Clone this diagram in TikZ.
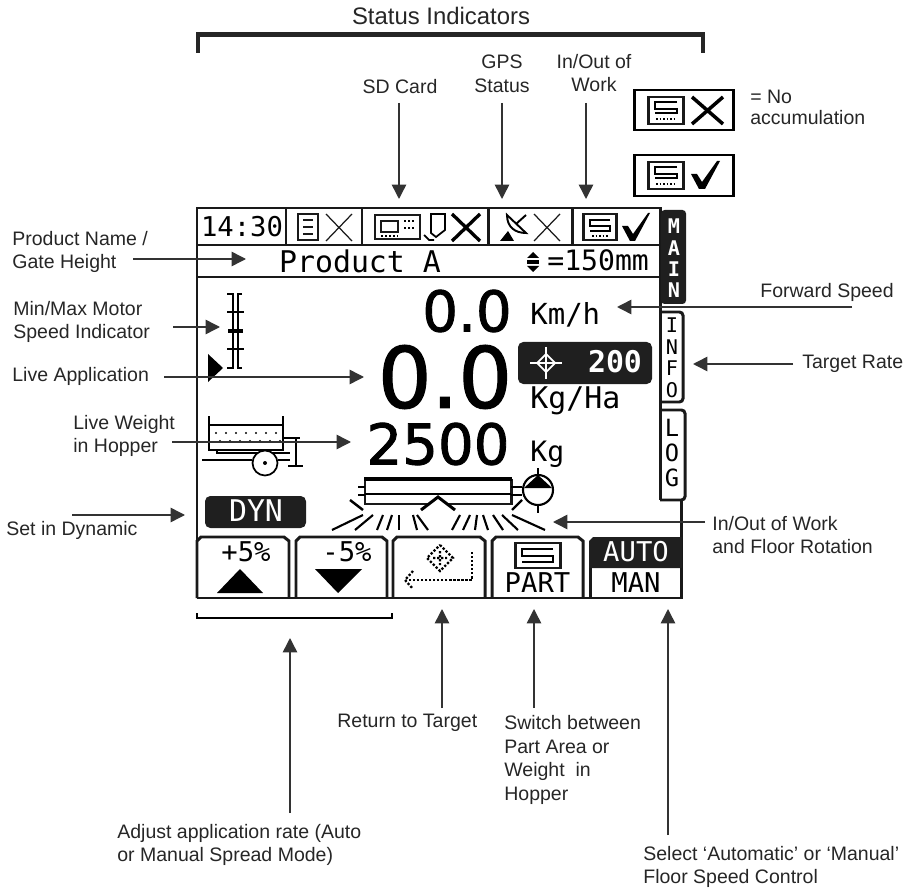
\documentclass[tikz,border=0pt]{standalone}
\usepackage{fontspec}
\setmainfont{Liberation Sans}
\newfontfamily\lcdfont{DejaVu Sans Mono}
\newfontfamily\bigfont[FakeBold=1.5]{DejaVu Sans}
\usetikzlibrary{arrows.meta, positioning}
\tikzset{
	lbl/.style={font=\fontsize{11.1}{13.6}\selectfont, text=black!85, align=left, anchor=west, inner sep=0pt},
	lblc/.style={font=\fontsize{11.1}{13.6}\selectfont, text=black!85, align=center, inner sep=0pt},
	lcd/.style={font=\fontsize{#1}{#1}\lcdfont, inner sep=0pt},
	bigtxt/.style={font=\fontsize{#1}{#1}\bigfont, inner sep=0pt},
	callout/.style={-{Triangle[length=8.2pt,width=8.2pt]}, line width=.85pt, draw=black!80},
	frame/.style={line width=1.7pt, draw=black!90},
	thin lcd/.style={line width=.7pt, draw=black!90},
}
\definecolor{lcdblack}{gray}{0.12}
\begin{document}
\begin{tikzpicture}[x=.02cm, y=-.02cm]
	\useasboundingbox (0,0) rectangle (909,888);
	% brackets on top and below
	\draw[line width=2.7pt, black!85] (198,53) -- (198,34.5) -- (703,34.5) -- (703,53);
	\node[lblc, font=\fontsize{13.6}{15}\selectfont] (status) at (441,16) {Status Indicators};
	\draw[line width=.7pt] (197,613) -- (197,618) -- (392,618) -- (392,613);

	% screen outline
	\draw[frame] (197,598) -- (197,208) -- (660,208) -- (660,500);
	\draw[frame] (197,245) -- (660,245); \draw[frame] (197,277) -- (660,277);
	\draw[frame] (286,208) -- (286,245); \draw[frame] (362,208) -- (362,245); \draw[frame] (488,208) -- (488,245); \draw[frame] (572,208) -- (572,245);
	\draw[frame] (197,598) -- (681,598) -- (681,500);

	% tabs
	\fill[lcdblack, rounded corners=2pt] (661,210) rectangle (686,304);
	\foreach \ltr/\ypos in {M/226,A/248,I/269,N/290} \node[lcd=11.5, text=white] (main\ltr) at (674,\ypos) {\textbf{\ltr}};
	\draw[frame, rounded corners=2pt] (660,312) -- (683,312) -- (683,402) -- (660,402);
	\foreach \ltr/\ypos in {I/325,N/347,F/368,O/390} \node[lcd=11.5] (info\ltr) at (672,\ypos) {\ltr};
	\draw[frame, rounded corners=2pt] (660,410) -- (685,410) -- (685,500) -- (660,500);
	\foreach \ltr/\ypos in {L/428,O/453,G/478} \node[lcd=13.5] (log\ltr) at (672,\ypos) {\ltr};

	% status row
	\node[lcd=15.5] (clock) at (242,227) {14:30};
	\draw[frame] (298,214) rectangle (318,240); \draw[thin lcd] (303,220) -- (313,220) (303,227) -- (313,227) (303,234) -- (313,234);
	\draw[thin lcd] (326,214) -- (352,241) (352,214) -- (326,241);
	\draw[frame] (375,215) rectangle (420,239); \draw[thin lcd] (381,221) rectangle (398,232);
	\draw[densely dotted, line width=1.3pt] (404,221) -- (416,221) (404,228) -- (416,228) (381,236) -- (398,236);
	\draw[line width=1pt] (431,214) -- (445,214) -- (445,230) -- (436,237) -- (431,233) -- cycle (424,235) -- (429,240) -- (434,240);
	\draw[line width=1.9pt] (452,214) -- (480,241) (480,214) -- (452,241);
	\draw[line width=1.1pt] (507,215) .. controls (507,227) and (515,233) .. (526,233) -- cycle (516,224) -- (526,215);
	\fill (500,241) -- (508,231) -- (514,241) -- cycle;
	\draw[thin lcd] (534,214) -- (560,241) (560,214) -- (534,241);
	\draw[frame] (583,214) rectangle (616,240); \draw[line width=1.1pt] (610,220) -- (590,220) -- (590,226) -- (610,226) -- (610,231) -- (590,231);
	\draw[densely dotted, line width=1pt] (592,236) -- (608,236);
	\fill (622,226) -- (628,226) -- (633,234) -- (648,213) -- (650,213) -- (635,241) -- (630,241) -- cycle;

	% second row
	\node[lcd=17] (product) at (360,261) {Product A};
	\fill (533,252) -- (539,258) -- (527,258) -- cycle (533,272) -- (539,266) -- (527,266) -- cycle; \fill (527,260) rectangle (539,264);
	\node[lcd=16, anchor=west] (gate) at (547,260) {=150mm};

	% readings
	\node[bigtxt=32] (speed) at (467,311) {0.0};
	\node[lcd=16.5, anchor=west] (kmh) at (530,315) {Km/h};
	\node[bigtxt=48] (rate) at (445,377) {0.0};
	\node[lcd=17, anchor=west] (kgha) at (530,401) {Kg/Ha};
	\fill[lcdblack, rounded corners=3pt] (518,342) rectangle (652,384);
	\draw[white, line width=1pt] (546,347) -- (546,379) (530,363) -- (562,363); \draw[white, line width=1pt] (546,354) -- (555,363) -- (546,372) -- (537,363) -- cycle;
	\node[lcd=17, text=white] (target) at (615,362) {\textbf{200}};
	\node[bigtxt=32] (weight) at (438,444) {2500};
	\node[lcd=16, anchor=west] (kg) at (530,454) {Kg};

	% motor speed indicator
	\draw[line width=1.2pt] (227,294) -- (233,294) -- (233,368) -- (227,368);
	\draw[line width=1.2pt] (242,294) -- (238,294) -- (238,368) -- (242,368);
	\draw[line width=1.2pt] (227,312) -- (244,312) (227,349) -- (244,349);
	\draw[line width=2.4pt] (228,331) -- (243,331);
	\fill (208,354) -- (223,368) -- (208,382) -- cycle;

	% hopper
	\draw[line width=1.1pt] (209,416) -- (209,450) -- (283,450) -- (283,416);
	\draw[line width=1.2pt] (209,425) -- (283,425);
	\foreach \xpos in {216,226,...,276} \fill (\xpos,433) circle (1.2) (\xpos+4,441) circle (1.2);
	\draw[line width=1.2pt] (217,450) -- (217,453) -- (290,453);
	\draw[line width=1.7pt] (202,460) -- (252,460) (278,460) -- (290,460);
	\draw[line width=1pt] (296,438) -- (296,466) (288,466) -- (303,466) (283,438) -- (300,438);
	\draw[line width=1pt, fill=white] (265,463) circle (12.5); \fill (265,463) circle (2);

	% DYN box
	\fill[lcdblack, rounded corners=3pt] (205,496) rectangle (306,528);
	\node[lcd=17, text=white] (dyn) at (256,511) {DYN};

	% spreader
	\draw[frame] (365,480) rectangle (511,504); \draw[line width=2.7pt] (364,479) -- (512,479); \draw[line width=1.2pt] (365,494) -- (511,494);
	\draw[line width=1.2pt] (358,487) -- (365,487) (358,495) -- (365,495) (511,487) -- (522,487) (511,495) -- (522,495);
	\draw[line width=1.7pt, fill=white] (421,510) -- (438,497) -- (455,510);
	\draw[line width=1.4pt] (350,500) -- (363,510) (512,510) -- (522,500);
	\foreach \xa/\xb in {332/363,355/373,377/383,387/392,399/399,417/413,428/417,452/460,463/470,475/477,488/483,503/493,518/502,545/512}
		\draw[line width=1.2pt] (\xa,530) -- (\xb,515);
	\draw[line width=1.2pt] (538,468) -- (538,476) (538,505) -- (538,513);
	\draw[line width=1.2pt] (538,490) circle (15);
	\fill (524,488) -- (538,475) -- (552,488) -- cycle;

	% softkeys
	\draw[frame] (197,598) -- (197,541) -- (201,537) -- (284,537) -- (289,541) -- (289,598);
	\draw[frame] (296,598) -- (296,541) -- (300,537) -- (382,537) -- (387,541) -- (387,598);
	\draw[frame] (393,598) -- (393,541) -- (397,537) -- (480,537) -- (485,541) -- (485,598);
	\draw[frame] (492,598) -- (492,541) -- (496,537) -- (578,537) -- (583,541) -- (583,598);
	\fill[lcdblack] (589,568) -- (589,541) -- (593,537) -- (682,537) -- (682,568) -- cycle;
	\draw[frame] (590,568) -- (590,598);
	\node[lcd=15.5, text=white] (auto) at (636,552) {AUTO};
	\node[lcd=15.5] (man) at (636,583) {MAN};
	\node[lcd=15.5] (plus) at (246,552) {+5\%};
	\fill (217,593) -- (240,569) -- (263,593) -- cycle;
	\node[lcd=15.5] (minus) at (347,552) {-5\%};
	\fill (315,569) -- (362,569) -- (338,593) -- cycle;
	\draw[densely dotted, line width=1.3pt] (440,545) -- (453,558) -- (440,571) -- (427,558) -- cycle (433,558) -- (447,558) (440,551) -- (440,565);
	\draw[densely dotted, line width=1.3pt] (472,552) -- (472,580) -- (408,580); \draw[densely dotted, line width=1.3pt] (413,571) -- (405,580) -- (413,589);
	\draw[frame] (515,543) rectangle (560,568); \draw[line width=1.1pt] (553,549) -- (522,549) -- (522,556) -- (553,556) -- (553,562) -- (522,562);
	\node[lcd=15.5] (part) at (537.5,583) {PART};

	% accumulation icons
	\draw[line width=1.7pt] (634,90) rectangle (733,130); \draw[frame] (648,97) rectangle (683,124);
	\draw[line width=1.1pt] (677,102) -- (655,102) -- (655,109) -- (677,109) -- (677,113) -- (655,113);
	\draw[densely dotted, line width=1pt] (656,119) -- (674,119);
	\draw[line width=2pt] (692,97) -- (723,124) (723,97) -- (692,124);
	\draw[line width=1.7pt] (634,155) rectangle (733,196); \draw[frame] (648,162) rectangle (683,189);
	\draw[line width=1.1pt] (677,167) -- (655,167) -- (655,174) -- (677,174) -- (677,178) -- (655,178);
	\draw[densely dotted, line width=1pt] (656,184) -- (674,184);
	\fill (691,174) -- (697,174) -- (702,182) -- (717,161) -- (720,161) -- (705,189) -- (699,189) -- cycle;
	\node[lbl, font=\fontsize{11.1}{12}\selectfont] (noacc) at (750,107) {= No\\accumulation};

	% callouts
	\node[lblc] (status sd) at (400,87) {SD Card};
	\node[lblc] (status gps) at (502,74) {GPS\\Status};
	\node[lblc] (status work) at (594,73) {In/Out of\\Work};
	\coordinate (sdtail) at (399,103); \coordinate (sdtip) at (399,199); \draw[callout] (sdtail) -- (sdtip);
	\coordinate (gpstail) at (502,103); \coordinate (gpstip) at (502,199); \draw[callout] (gpstail) -- (gpstip);
	\coordinate (worktail) at (586,103); \coordinate (worktip) at (586,199); \draw[callout] (worktail) -- (worktip);

	\node[lbl] (prodname) at (12,252) {Product Name /\\Gate Height};
	\coordinate (prodtail) at (133,259); \coordinate (prodtip) at (246,259); \draw[callout] (prodtail) -- (prodtip);
	\node[lbl] (minmax) at (13,322) {Min/Max Motor\\Speed Indicator};
	\coordinate (minmaxtail) at (173,327); \coordinate (minmaxtip) at (220,327); \draw[callout] (minmaxtail) -- (minmaxtip);
	\node[lbl] (liveapp) at (12,376) {Live Application};
	\coordinate (apptail) at (164,377); \coordinate (apptip) at (364,377); \draw[callout] (apptail) -- (apptip);
	\node[lbl] (liveweight) at (73,436) {Live Weight\\in Hopper};
	\coordinate (weighttail) at (172,442); \coordinate (weighttip) at (351,442); \draw[callout] (weighttail) -- (weighttip);
	\node[lbl] (setdyn) at (6,530) {Set in Dynamic};
	\coordinate (dyntail) at (72,515); \coordinate (dyntip) at (185,515); \draw[callout] (dyntail) -- (dyntip);
	\node[lbl] (fwd) at (760,292) {Forward Speed};
	\coordinate (fwdtail) at (852,307); \coordinate (fwdtip) at (617,307); \draw[callout] (fwdtail) -- (fwdtip);
	\node[lbl] (rateinfo) at (802,364) {Target Rate};
	\coordinate (ratetail) at (793,364); \coordinate (ratetip) at (693,364); \draw[callout] (ratetail) -- (ratetip);
	\node[lbl] (floor) at (712,535) {In/Out of Work\\and Floor Rotation};
	\coordinate (floortail) at (705,522); \coordinate (floortip) at (553,522); \draw[callout] (floortail) -- (floortip);

	\node[lbl] (ret) at (337,723) {Return to Target};
	\coordinate (rettail) at (442,708); \coordinate (rettip) at (442,609); \draw[callout] (rettail) -- (rettip);
	\node[lbl] (switchpart) at (504,760) {Switch between\\Part Area or\\Weight~ in\\Hopper};
	\coordinate (parttail) at (534,708); \coordinate (parttip) at (534,609); \draw[callout] (parttail) -- (parttip);
	\node[lbl] (adjust) at (117,845) {Adjust application rate (Auto\\or Manual Spread Mode)};
	\coordinate (adjtail) at (290,813); \coordinate (adjtip) at (290,638); \draw[callout] (adjtail) -- (adjtip);
	\node[lbl] (sel) at (643,867) {Select ‘Automatic’ or ‘Manual’\\Floor Speed Control};
	\coordinate (seltail) at (668,835); \coordinate (seltip) at (668,609); \draw[callout] (seltail) -- (seltip);
\end{tikzpicture}
\end{document}
